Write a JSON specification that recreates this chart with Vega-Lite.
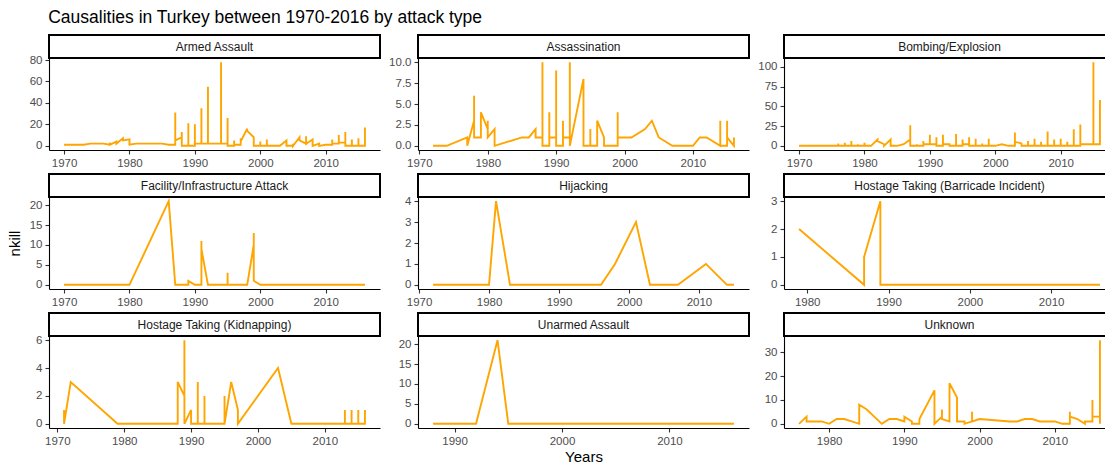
{
  "$schema": "https://vega.github.io/schema/vega-lite/v6.json",
  "background": "white",
  "padding": {"left": 7, "top": 8, "right": 0, "bottom": 0},
  "title": {"text": "Causalities in Turkey between 1970-2016 by attack type", "anchor": "start", "offset": 8, "dx": 41},
  "datasets": {
    "armed": [{"year":1970,"nkill":1},{"year":1971,"nkill":1},{"year":1972,"nkill":1},{"year":1973,"nkill":1},{"year":1974,"nkill":2},{"year":1975,"nkill":2},{"year":1976,"nkill":2},{"year":1977,"nkill":1},{"year":1977,"nkill":3},{"year":1977,"nkill":1},{"year":1978,"nkill":4},{"year":1978,"nkill":2},{"year":1979,"nkill":7},{"year":1979,"nkill":5},{"year":1980,"nkill":6},{"year":1980,"nkill":1},{"year":1981,"nkill":2},{"year":1982,"nkill":2},{"year":1983,"nkill":2},{"year":1984,"nkill":2},{"year":1985,"nkill":2},{"year":1986,"nkill":1},{"year":1987,"nkill":1},{"year":1987,"nkill":31},{"year":1987,"nkill":5},{"year":1988,"nkill":8},{"year":1988,"nkill":13},{"year":1988,"nkill":0},{"year":1989,"nkill":0},{"year":1989,"nkill":21},{"year":1989,"nkill":0},{"year":1990,"nkill":0},{"year":1990,"nkill":20},{"year":1990,"nkill":2},{"year":1991,"nkill":2},{"year":1991,"nkill":35},{"year":1991,"nkill":2},{"year":1992,"nkill":2},{"year":1992,"nkill":55},{"year":1992,"nkill":2},{"year":1993,"nkill":2},{"year":1994,"nkill":2},{"year":1994,"nkill":78},{"year":1994,"nkill":2},{"year":1995,"nkill":2},{"year":1995,"nkill":26},{"year":1995,"nkill":0},{"year":1996,"nkill":0},{"year":1996,"nkill":5},{"year":1996,"nkill":1},{"year":1997,"nkill":1},{"year":1997,"nkill":7},{"year":1997,"nkill":4},{"year":1998,"nkill":16},{"year":1998,"nkill":14},{"year":1999,"nkill":8},{"year":1999,"nkill":0},{"year":2000,"nkill":0},{"year":2000,"nkill":4},{"year":2000,"nkill":0},{"year":2001,"nkill":0},{"year":2001,"nkill":6},{"year":2001,"nkill":0},{"year":2002,"nkill":0},{"year":2003,"nkill":0},{"year":2004,"nkill":5},{"year":2004,"nkill":0},{"year":2005,"nkill":0},{"year":2005,"nkill":2},{"year":2005,"nkill":0},{"year":2006,"nkill":8},{"year":2006,"nkill":5},{"year":2007,"nkill":2},{"year":2007,"nkill":9},{"year":2007,"nkill":2},{"year":2008,"nkill":6},{"year":2008,"nkill":0},{"year":2009,"nkill":2},{"year":2009,"nkill":0},{"year":2010,"nkill":1},{"year":2011,"nkill":1},{"year":2011,"nkill":6},{"year":2011,"nkill":2},{"year":2012,"nkill":2},{"year":2012,"nkill":10},{"year":2012,"nkill":3},{"year":2013,"nkill":3},{"year":2013,"nkill":13},{"year":2013,"nkill":0},{"year":2014,"nkill":0},{"year":2014,"nkill":6},{"year":2014,"nkill":0},{"year":2015,"nkill":0},{"year":2015,"nkill":7},{"year":2015,"nkill":0},{"year":2016,"nkill":0},{"year":2016,"nkill":17}],
    "assassination": [{"year":1972,"nkill":0},{"year":1974,"nkill":0},{"year":1977,"nkill":1},{"year":1977,"nkill":0},{"year":1978,"nkill":3},{"year":1978,"nkill":6},{"year":1978,"nkill":1},{"year":1979,"nkill":1},{"year":1979,"nkill":4},{"year":1980,"nkill":2},{"year":1980,"nkill":3},{"year":1980,"nkill":1},{"year":1981,"nkill":2},{"year":1981,"nkill":0},{"year":1985,"nkill":1},{"year":1986,"nkill":1},{"year":1987,"nkill":2},{"year":1987,"nkill":1},{"year":1988,"nkill":1},{"year":1988,"nkill":10},{"year":1988,"nkill":0},{"year":1989,"nkill":0},{"year":1989,"nkill":4},{"year":1989,"nkill":1},{"year":1990,"nkill":1},{"year":1990,"nkill":9},{"year":1990,"nkill":0},{"year":1991,"nkill":0},{"year":1991,"nkill":3},{"year":1991,"nkill":1},{"year":1992,"nkill":1},{"year":1992,"nkill":10},{"year":1992,"nkill":0},{"year":1994,"nkill":8},{"year":1994,"nkill":0},{"year":1995,"nkill":0},{"year":1995,"nkill":2},{"year":1995,"nkill":0},{"year":1996,"nkill":0},{"year":1996,"nkill":3},{"year":1997,"nkill":1},{"year":1997,"nkill":0},{"year":1998,"nkill":0},{"year":1999,"nkill":0},{"year":1999,"nkill":4},{"year":1999,"nkill":1},{"year":2000,"nkill":1},{"year":2001,"nkill":1},{"year":2003,"nkill":2},{"year":2004,"nkill":3},{"year":2005,"nkill":1},{"year":2007,"nkill":0},{"year":2010,"nkill":0},{"year":2011,"nkill":1},{"year":2012,"nkill":1},{"year":2014,"nkill":0},{"year":2014,"nkill":3},{"year":2014,"nkill":0},{"year":2015,"nkill":0},{"year":2015,"nkill":3},{"year":2015,"nkill":1},{"year":2016,"nkill":0},{"year":2016,"nkill":1}],
    "bombing": [{"year":1970,"nkill":0},{"year":1975,"nkill":0},{"year":1976,"nkill":0},{"year":1976,"nkill":3},{"year":1976,"nkill":0},{"year":1977,"nkill":0},{"year":1977,"nkill":4},{"year":1977,"nkill":0},{"year":1978,"nkill":0},{"year":1978,"nkill":6},{"year":1978,"nkill":0},{"year":1979,"nkill":0},{"year":1979,"nkill":2},{"year":1979,"nkill":0},{"year":1980,"nkill":0},{"year":1980,"nkill":4},{"year":1980,"nkill":0},{"year":1981,"nkill":0},{"year":1982,"nkill":8},{"year":1982,"nkill":6},{"year":1983,"nkill":2},{"year":1983,"nkill":0},{"year":1984,"nkill":8},{"year":1984,"nkill":0},{"year":1985,"nkill":0},{"year":1986,"nkill":2},{"year":1987,"nkill":8},{"year":1987,"nkill":26},{"year":1987,"nkill":0},{"year":1988,"nkill":0},{"year":1988,"nkill":2},{"year":1988,"nkill":0},{"year":1989,"nkill":0},{"year":1989,"nkill":6},{"year":1989,"nkill":2},{"year":1990,"nkill":2},{"year":1990,"nkill":14},{"year":1990,"nkill":2},{"year":1991,"nkill":2},{"year":1991,"nkill":11},{"year":1991,"nkill":0},{"year":1992,"nkill":0},{"year":1992,"nkill":14},{"year":1992,"nkill":2},{"year":1993,"nkill":2},{"year":1993,"nkill":0},{"year":1994,"nkill":0},{"year":1994,"nkill":15},{"year":1994,"nkill":0},{"year":1995,"nkill":0},{"year":1995,"nkill":8},{"year":1995,"nkill":2},{"year":1996,"nkill":2},{"year":1996,"nkill":11},{"year":1996,"nkill":0},{"year":1997,"nkill":0},{"year":1997,"nkill":9},{"year":1997,"nkill":0},{"year":1998,"nkill":0},{"year":1998,"nkill":3},{"year":1998,"nkill":0},{"year":1999,"nkill":0},{"year":1999,"nkill":9},{"year":1999,"nkill":0},{"year":2000,"nkill":0},{"year":2001,"nkill":2},{"year":2002,"nkill":0},{"year":2003,"nkill":0},{"year":2003,"nkill":17},{"year":2003,"nkill":5},{"year":2004,"nkill":3},{"year":2004,"nkill":0},{"year":2005,"nkill":0},{"year":2005,"nkill":6},{"year":2005,"nkill":0},{"year":2006,"nkill":0},{"year":2006,"nkill":9},{"year":2006,"nkill":0},{"year":2007,"nkill":0},{"year":2007,"nkill":5},{"year":2007,"nkill":0},{"year":2008,"nkill":0},{"year":2008,"nkill":18},{"year":2008,"nkill":0},{"year":2009,"nkill":0},{"year":2009,"nkill":8},{"year":2009,"nkill":0},{"year":2010,"nkill":0},{"year":2010,"nkill":9},{"year":2010,"nkill":0},{"year":2011,"nkill":0},{"year":2011,"nkill":5},{"year":2011,"nkill":0},{"year":2012,"nkill":0},{"year":2012,"nkill":21},{"year":2012,"nkill":0},{"year":2013,"nkill":0},{"year":2013,"nkill":27},{"year":2013,"nkill":2},{"year":2014,"nkill":2},{"year":2015,"nkill":2},{"year":2015,"nkill":106},{"year":2015,"nkill":2},{"year":2016,"nkill":2},{"year":2016,"nkill":58},{"year":2016,"nkill":2}],
    "facility": [{"year":1970,"nkill":0},{"year":1980,"nkill":0},{"year":1986,"nkill":21},{"year":1987,"nkill":0},{"year":1989,"nkill":0},{"year":1989,"nkill":1},{"year":1990,"nkill":0},{"year":1991,"nkill":0},{"year":1991,"nkill":11},{"year":1991,"nkill":9},{"year":1992,"nkill":0},{"year":1995,"nkill":0},{"year":1995,"nkill":3},{"year":1995,"nkill":0},{"year":1998,"nkill":0},{"year":1999,"nkill":10},{"year":1999,"nkill":13},{"year":1999,"nkill":1},{"year":2000,"nkill":0},{"year":2016,"nkill":0}],
    "hijacking": [{"year":1972,"nkill":0},{"year":1980,"nkill":0},{"year":1981,"nkill":4},{"year":1983,"nkill":0},{"year":1996,"nkill":0},{"year":1998,"nkill":1},{"year":2001,"nkill":3},{"year":2003,"nkill":0},{"year":2007,"nkill":0},{"year":2011,"nkill":1},{"year":2014,"nkill":0},{"year":2015,"nkill":0}],
    "barricade": [{"year":1979,"nkill":2},{"year":1987,"nkill":0},{"year":1987,"nkill":1},{"year":1989,"nkill":3},{"year":1989,"nkill":0},{"year":2016,"nkill":0}],
    "kidnapping": [{"year":1971,"nkill":1},{"year":1971,"nkill":0},{"year":1972,"nkill":3},{"year":1979,"nkill":0},{"year":1988,"nkill":0},{"year":1988,"nkill":3},{"year":1989,"nkill":2},{"year":1989,"nkill":6},{"year":1989,"nkill":0},{"year":1990,"nkill":1},{"year":1990,"nkill":0},{"year":1991,"nkill":0},{"year":1991,"nkill":3},{"year":1991,"nkill":0},{"year":1992,"nkill":0},{"year":1992,"nkill":2},{"year":1992,"nkill":0},{"year":1995,"nkill":0},{"year":1995,"nkill":2},{"year":1995,"nkill":0},{"year":1996,"nkill":3},{"year":1997,"nkill":1},{"year":1997,"nkill":0},{"year":2003,"nkill":4},{"year":2005,"nkill":0},{"year":2013,"nkill":0},{"year":2013,"nkill":1},{"year":2013,"nkill":0},{"year":2014,"nkill":0},{"year":2014,"nkill":1},{"year":2014,"nkill":0},{"year":2015,"nkill":0},{"year":2015,"nkill":1},{"year":2015,"nkill":0},{"year":2016,"nkill":0},{"year":2016,"nkill":1}],
    "unarmed": [{"year":1988,"nkill":0},{"year":1992,"nkill":0},{"year":1994,"nkill":21},{"year":1995,"nkill":0},{"year":2016,"nkill":0}],
    "unknown": [{"year":1976,"nkill":0},{"year":1977,"nkill":3},{"year":1977,"nkill":1},{"year":1979,"nkill":1},{"year":1980,"nkill":0},{"year":1981,"nkill":2},{"year":1982,"nkill":2},{"year":1983,"nkill":1},{"year":1984,"nkill":0},{"year":1984,"nkill":8},{"year":1985,"nkill":6},{"year":1986,"nkill":3},{"year":1987,"nkill":0},{"year":1988,"nkill":2},{"year":1989,"nkill":2},{"year":1990,"nkill":1},{"year":1990,"nkill":3},{"year":1991,"nkill":1},{"year":1991,"nkill":0},{"year":1992,"nkill":0},{"year":1992,"nkill":2},{"year":1994,"nkill":14},{"year":1994,"nkill":0},{"year":1995,"nkill":3},{"year":1995,"nkill":6},{"year":1995,"nkill":2},{"year":1996,"nkill":1},{"year":1996,"nkill":17},{"year":1997,"nkill":11},{"year":1997,"nkill":1},{"year":1998,"nkill":1},{"year":1998,"nkill":0},{"year":1999,"nkill":1},{"year":1999,"nkill":5},{"year":1999,"nkill":1},{"year":2000,"nkill":2},{"year":2004,"nkill":1},{"year":2005,"nkill":1},{"year":2006,"nkill":2},{"year":2007,"nkill":2},{"year":2008,"nkill":1},{"year":2010,"nkill":1},{"year":2011,"nkill":0},{"year":2012,"nkill":0},{"year":2012,"nkill":5},{"year":2012,"nkill":3},{"year":2013,"nkill":2},{"year":2014,"nkill":0},{"year":2014,"nkill":1},{"year":2015,"nkill":1},{"year":2015,"nkill":10},{"year":2015,"nkill":3},{"year":2016,"nkill":3},{"year":2016,"nkill":0},{"year":2016,"nkill":35}]
  },
  "hconcat": [
    {"vconcat": [
      {"vconcat": [
        {"width": 331, "height": 23, "data": {"values": [{"type": "Armed Assault"}]}, "mark": "text", "encoding": {"text": {"field": "type"}}, "view": {"stroke": "black", "strokeWidth": 2, "fill": "white"}},
        {"width": 331, "height": 92, "data": {"name": "armed"}, "transform": [{"window": [{"op": "row_number", "as": "i"}]}], "mark": "line",
         "encoding": {"x": {"field": "year", "type": "quantitative", "scale": {"domain": [1967.7, 2018.3], "nice": false, "zero": false}, "axis": {"values": [1970, 1980, 1990, 2000, 2010], "title": null}},
                      "y": {"field": "nkill", "type": "quantitative", "scale": {"domain": [-3.9, 81.9], "nice": false}, "axis": {"values": [0, 20, 40, 60, 80], "title": null}},
                      "order": {"field": "i", "type": "quantitative"}}}
      ], "spacing": 0, "bounds": "flush"},
      {"vconcat": [
        {"width": 331, "height": 23, "data": {"values": [{"type": "Facility/Infrastructure Attack"}]}, "mark": "text", "encoding": {"text": {"field": "type"}}, "view": {"stroke": "black", "strokeWidth": 2, "fill": "white"}},
        {"width": 331, "height": 92, "data": {"name": "facility"}, "transform": [{"window": [{"op": "row_number", "as": "i"}]}], "mark": "line",
         "encoding": {"x": {"field": "year", "type": "quantitative", "scale": {"domain": [1967.7, 2018.3], "nice": false, "zero": false}, "axis": {"values": [1970, 1980, 1990, 2000, 2010], "title": null}},
                      "y": {"field": "nkill", "type": "quantitative", "scale": {"domain": [-1.05, 22.05], "nice": false}, "axis": {"values": [0, 5, 10, 15, 20], "title": "nkill"}},
                      "order": {"field": "i", "type": "quantitative"}}}
      ], "spacing": 0, "bounds": "flush"},
      {"vconcat": [
        {"width": 331, "height": 23, "data": {"values": [{"type": "Hostage Taking (Kidnapping)"}]}, "mark": "text", "encoding": {"text": {"field": "type"}}, "view": {"stroke": "black", "strokeWidth": 2, "fill": "white"}},
        {"width": 331, "height": 92, "data": {"name": "kidnapping"}, "transform": [{"window": [{"op": "row_number", "as": "i"}]}], "mark": "line",
         "encoding": {"x": {"field": "year", "type": "quantitative", "scale": {"domain": [1968.75, 2018.25], "nice": false, "zero": false}, "axis": {"values": [1970, 1980, 1990, 2000, 2010], "title": null}},
                      "y": {"field": "nkill", "type": "quantitative", "scale": {"domain": [-0.3, 6.3], "nice": false}, "axis": {"values": [0, 2, 4, 6], "title": null}},
                      "order": {"field": "i", "type": "quantitative"}}}
      ], "spacing": 0, "bounds": "flush"}
    ], "spacing": 4},
    {"hconcat": [
      {"vconcat": [
        {"vconcat": [
          {"width": 331, "height": 23, "data": {"values": [{"type": "Assassination"}]}, "mark": "text", "encoding": {"text": {"field": "type"}}, "view": {"stroke": "black", "strokeWidth": 2, "fill": "white"}},
          {"width": 331, "height": 92, "data": {"name": "assassination"}, "transform": [{"window": [{"op": "row_number", "as": "i"}]}], "mark": "line",
           "encoding": {"x": {"field": "year", "type": "quantitative", "scale": {"domain": [1969.8, 2018.2], "nice": false, "zero": false}, "axis": {"values": [1970, 1980, 1990, 2000, 2010], "title": null}},
                        "y": {"field": "nkill", "type": "quantitative", "scale": {"domain": [-0.5, 10.5], "nice": false}, "axis": {"values": [0, 2.5, 5, 7.5, 10], "format": ".1f", "title": null}},
                        "order": {"field": "i", "type": "quantitative"}}}
        ], "spacing": 0, "bounds": "flush"},
        {"vconcat": [
          {"width": 331, "height": 23, "data": {"values": [{"type": "Hijacking"}]}, "mark": "text", "encoding": {"text": {"field": "type"}}, "view": {"stroke": "black", "strokeWidth": 2, "fill": "white"}},
          {"width": 331, "height": 92, "data": {"name": "hijacking"}, "transform": [{"window": [{"op": "row_number", "as": "i"}]}], "mark": "line",
           "encoding": {"x": {"field": "year", "type": "quantitative", "scale": {"domain": [1969.85, 2017.15], "nice": false, "zero": false}, "axis": {"values": [1970, 1980, 1990, 2000, 2010], "title": null}},
                        "y": {"field": "nkill", "type": "quantitative", "scale": {"domain": [-0.2, 4.2], "nice": false}, "axis": {"values": [0, 1, 2, 3, 4], "title": null}},
                        "order": {"field": "i", "type": "quantitative"}}}
        ], "spacing": 0, "bounds": "flush"},
        {"vconcat": [
          {"width": 331, "height": 23, "data": {"values": [{"type": "Unarmed Assault"}]}, "mark": "text", "encoding": {"text": {"field": "type"}}, "view": {"stroke": "black", "strokeWidth": 2, "fill": "white"}},
          {"width": 331, "height": 92, "data": {"name": "unarmed"}, "transform": [{"window": [{"op": "row_number", "as": "i"}]}], "mark": "line",
           "encoding": {"x": {"field": "year", "type": "quantitative", "scale": {"domain": [1986.6, 2017.4], "nice": false, "zero": false}, "axis": {"values": [1990, 2000, 2010], "title": "Years", "titlePadding": 3}},
                        "y": {"field": "nkill", "type": "quantitative", "scale": {"domain": [-1.05, 22.05], "nice": false}, "axis": {"values": [0, 5, 10, 15, 20], "title": null}},
                        "order": {"field": "i", "type": "quantitative"}}}
        ], "spacing": 0, "bounds": "flush"}
      ], "spacing": 4},
      {"vconcat": [
        {"vconcat": [
          {"width": 331, "height": 23, "data": {"values": [{"type": "Bombing/Explosion"}]}, "mark": "text", "encoding": {"text": {"field": "type"}}, "view": {"stroke": "black", "strokeWidth": 2, "fill": "white"}},
          {"width": 331, "height": 92, "data": {"name": "bombing"}, "transform": [{"window": [{"op": "row_number", "as": "i"}]}], "mark": "line",
           "encoding": {"x": {"field": "year", "type": "quantitative", "scale": {"domain": [1967.7, 2018.3], "nice": false, "zero": false}, "axis": {"values": [1970, 1980, 1990, 2000, 2010], "title": null}},
                        "y": {"field": "nkill", "type": "quantitative", "scale": {"domain": [-5.3, 111.3], "nice": false}, "axis": {"values": [0, 25, 50, 75, 100], "title": null}},
                        "order": {"field": "i", "type": "quantitative"}}}
        ], "spacing": 0, "bounds": "flush"},
        {"vconcat": [
          {"width": 331, "height": 23, "data": {"values": [{"type": "Hostage Taking (Barricade Incident)"}]}, "mark": "text", "encoding": {"text": {"field": "type"}}, "view": {"stroke": "black", "strokeWidth": 2, "fill": "white"}},
          {"width": 331, "height": 92, "data": {"name": "barricade"}, "transform": [{"window": [{"op": "row_number", "as": "i"}]}], "mark": "line",
           "encoding": {"x": {"field": "year", "type": "quantitative", "scale": {"domain": [1977.15, 2017.85], "nice": false, "zero": false}, "axis": {"values": [1980, 1990, 2000, 2010], "title": null}},
                        "y": {"field": "nkill", "type": "quantitative", "scale": {"domain": [-0.15, 3.15], "nice": false}, "axis": {"values": [0, 1, 2, 3], "title": null}},
                        "order": {"field": "i", "type": "quantitative"}}}
        ], "spacing": 0, "bounds": "flush"},
        {"vconcat": [
          {"width": 331, "height": 23, "data": {"values": [{"type": "Unknown"}]}, "mark": "text", "encoding": {"text": {"field": "type"}}, "view": {"stroke": "black", "strokeWidth": 2, "fill": "white"}},
          {"width": 331, "height": 92, "data": {"name": "unknown"}, "transform": [{"window": [{"op": "row_number", "as": "i"}]}], "mark": "line",
           "encoding": {"x": {"field": "year", "type": "quantitative", "scale": {"domain": [1974, 2018], "nice": false, "zero": false}, "axis": {"values": [1980, 1990, 2000, 2010], "title": null}},
                        "y": {"field": "nkill", "type": "quantitative", "scale": {"domain": [-1.75, 36.75], "nice": false}, "axis": {"values": [0, 10, 20, 30], "title": null}},
                        "order": {"field": "i", "type": "quantitative"}}}
        ], "spacing": 0, "bounds": "flush"}
      ], "spacing": 4}
    ], "spacing": 7}
  ],
  "spacing": 7,
  "config": {
    "font": "Liberation Sans",
    "view": {"stroke": null},
    "axis": {"grid": false, "format": "d", "domainColor": "#000000", "domainWidth": 1.1, "tickColor": "#333333", "tickSize": 4, "tickWidth": 1.1, "labelColor": "#4D4D4D", "labelFontSize": 11.5, "labelPadding": 3, "titleColor": "#000000", "titleFontSize": 15, "titleFontWeight": "normal", "labelFont": "Liberation Sans", "titleFont": "Liberation Sans", "titlePadding": 7},
    "text": {"font": "Liberation Sans", "fontSize": 12, "color": "#1A1A1A"},
    "line": {"color": "#FFA500", "strokeWidth": 1.9},
    "title": {"font": "Liberation Sans", "fontSize": 17.5, "fontWeight": "normal", "color": "#000000", "anchor": "start"}
  }
}
